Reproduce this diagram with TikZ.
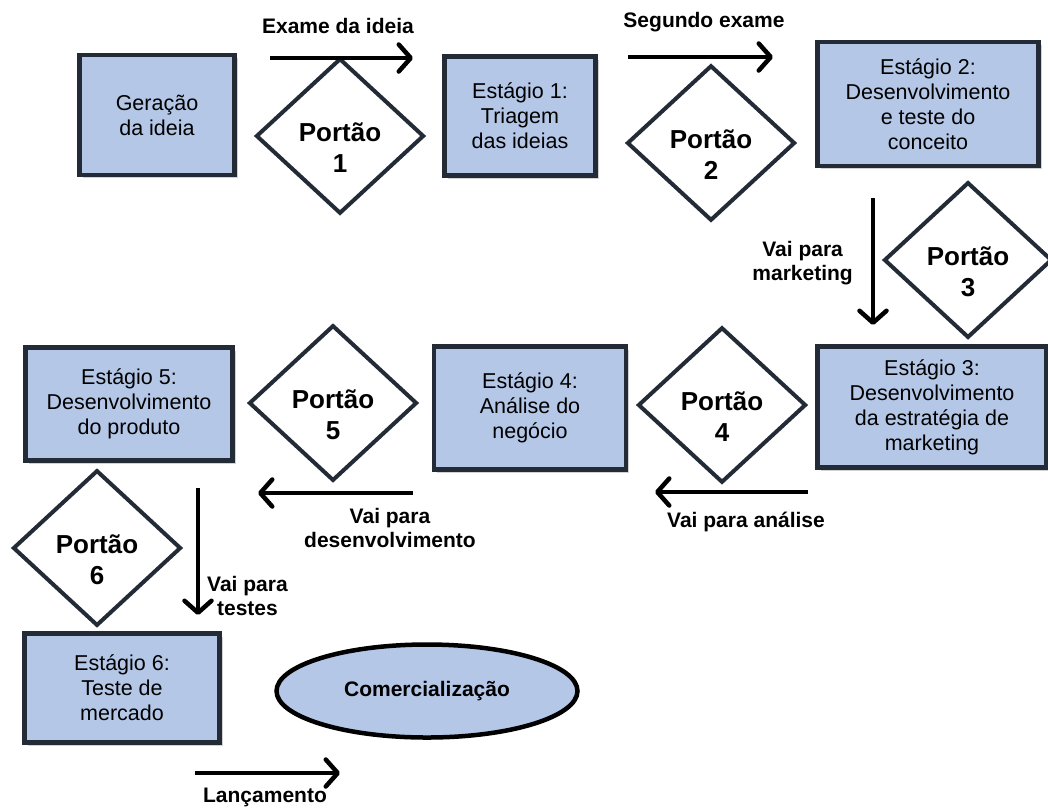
\documentclass[tikz,border=0pt]{standalone}
\usepackage{fontspec}
\setmainfont{Liberation Sans}
\usetikzlibrary{shapes.geometric,arrows.meta,shadows}

\definecolor{stagefill}{HTML}{B4C7E7}
\definecolor{stageline}{HTML}{232B36}

\newcommand{\stagefont}{\fontsize{21.5}{25}\selectfont}
\newcommand{\gatefont}{\fontsize{26}{31}\selectfont\bfseries}
\newcommand{\flowfont}{\fontsize{21}{23.5}\selectfont\bfseries}
% gate text sits a little below the middle of the diamond
\newcommand{\gatetext}[1]{\rule{0pt}{42pt}Portão\\#1}

\tikzset{
  stage/.style={draw=stageline, line width=4.5pt, fill=stagefill, align=center,
    font=\stagefont, inner sep=0pt,
    drop shadow={shadow xshift=3pt, shadow yshift=-3pt, opacity=0.35}},
  gate/.style={diamond, draw=stageline, line width=4pt, fill=white, align=center,
    font=\gatefont, inner sep=0pt, minimum width=168pt, minimum height=146pt},
  flow/.style={line width=4.5pt, -{Straight Barb[length=12pt,width=27pt,round]}},
  flowlabel/.style={font=\flowfont, align=center, inner sep=0pt}
}

\begin{document}
\begin{tikzpicture}[x=1pt, y=-1pt]
  \useasboundingbox[fill=white] (0,0) rectangle (1048,807);
  % Stages
  \node[stage, minimum width=155pt, minimum height=120pt] (s0) at (157,115) {Geração\\da ideia};
  \node[stage, minimum width=151pt, minimum height=119pt] (s1) at (520,116) {Estágio 1:\\Triagem\\das ideias};
  \node[stage, minimum width=221pt, minimum height=124pt] (s2) at (928,104) {Estágio 2:\\Desenvolvimento\\e teste do\\conceito};
  \node[stage, minimum width=229pt, minimum height=121pt] (s3) at (932,407) {Estágio 3:\\Desenvolvimento\\da estratégia de\\marketing};
  \node[stage, minimum width=192pt, minimum height=123pt] (s4) at (530,408) {Estágio 4:\\Análise do\\negócio};
  \node[stage, minimum width=207pt, minimum height=113pt] (s5) at (129,404) {Estágio 5:\\Desenvolvimento\\do produto};
  \node[stage, minimum width=195pt, minimum height=109pt] (s6) at (122,688) {Estágio 6:\\Teste de\\mercado};
  \node[ellipse, draw=black, line width=4.5pt, fill=stagefill, font=\flowfont,
    minimum width=301pt, minimum height=93pt] (com) at (427,691) {Comercialização};
  % Gates
  \node[gate] (g1) at (340,136) {\gatetext{1}};
  \node[gate] (g2) at (711,143) {\gatetext{2}};
  \node[gate] (g3) at (968,260) {\gatetext{3}};
  \node[gate] (g4) at (722,405) {\gatetext{4}};
  \node[gate] (g5) at (333,403) {\gatetext{5}};
  \node[gate, minimum height=150pt] (g6) at (97,548) {\gatetext{6}};
  % Arrows
  \coordinate (a1s) at (270,58);  \coordinate (a1e) at (413,58);
  \coordinate (a2s) at (628,57);  \coordinate (a2e) at (773,57);
  \coordinate (a3s) at (873,198); \coordinate (a3e) at (873,325);
  \coordinate (a4s) at (808,492); \coordinate (a4e) at (655,492);
  \coordinate (a5s) at (413,493); \coordinate (a5e) at (258,493);
  \coordinate (a6s) at (198,488); \coordinate (a6e) at (198,615);
  \coordinate (a7s) at (195,773); \coordinate (a7e) at (340,773);
  \draw[flow] (a1s) -- (a1e);
  \draw[flow] (a2s) -- (a2e);
  \draw[flow] (a3s) -- (a3e);
  \draw[flow] (a4s) -- (a4e);
  \draw[flow] (a5s) -- (a5e);
  \draw[flow] (a6s) -- (a6e);
  \draw[flow] (a7s) -- (a7e);
  % Labels
  \node[flowlabel] (l1) at (338,26) {Exame da ideia};
  \node[flowlabel] (l2) at (704,22) {Segundo exame};
  \node[flowlabel, anchor=east] (l3) at (853,263) {Vai para\\marketing};
  \node[flowlabel] (l4) at (746,522) {Vai para análise};
  \node[flowlabel] (l5) at (390,528) {Vai para\\desenvolvimento};
  \node[flowlabel, anchor=west] (l6) at (207,596) {Vai para\\testes};
  \node[flowlabel] (l7) at (265,797) {Lançamento};
\end{tikzpicture}
\end{document}
